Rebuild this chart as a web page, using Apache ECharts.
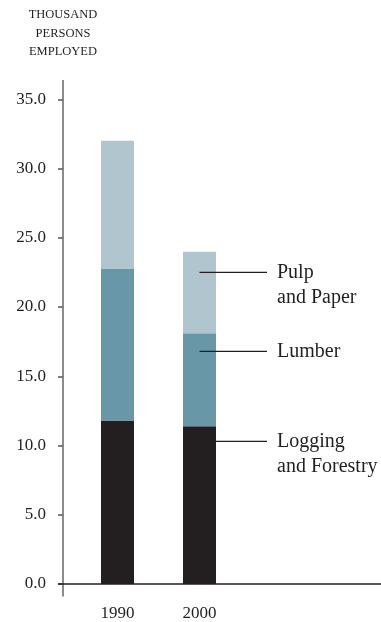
<!DOCTYPE html>
<html>
<head>
<meta charset="utf-8">
<script src="https://cdn.jsdelivr.net/npm/echarts@6/dist/echarts.min.js"></script>
<style>
html,body{margin:0;padding:0;background:#fff;}
#chart{width:381px;height:622px;}
</style>
</head>
<body>
<div id="chart"></div>
<script>
// ---- data ----
const categories = ['1990', '2000'];
const seriesNames = ['Logging\nand Forestry', 'Lumber', 'Pulp\nand Paper'];
const logging = [11.8, 11.4];
const lumber = [10.95, 6.7];
const pulp = [9.25, 5.9];
const yTicks = [0, 5, 10, 15, 20, 25, 30, 35];
const axisTitle = 'THOUSAND\nPERSONS\nEMPLOYED';

// ---- styling ----
const FONT = '"Liberation Serif", "DejaVu Serif", serif';
const colors = ['#231f20', '#6898a8', '#b0c5ce'];
const annotAnchors = [10.3, 16.8, 22.5]; // value positions of leader lines (logging, lumber, pulp)

const chart = echarts.init(document.getElementById('chart'));
const option = {
  animation: false,
  backgroundColor: '#fff',
  grid: { left: 76.5, right: 140.5, top: 99.3, bottom: 38, containLabel: false },
  xAxis: {
    type: 'category',
    data: categories,
    axisLine: { show: false },
    axisTick: { show: false },
    axisLabel: { color: '#231f20', fontFamily: FONT, fontSize: 17, margin: 21 }
  },
  yAxis: {
    type: 'value',
    min: yTicks[0],
    max: yTicks[yTicks.length - 1],
    interval: 5,
    offset: 13.5,
    name: axisTitle,
    nameLocation: 'end',
    nameGap: 38,
    nameTextStyle: { color: '#231f20', fontFamily: FONT, fontSize: 12.5, lineHeight: 18.5, align: 'center', verticalAlign: 'bottom' },
    axisLine: { show: false },
    axisTick: { show: true, length: 5, inside: false, lineStyle: { color: '#555', width: 1.5 } },
    splitLine: { show: false },
    axisLabel: { color: '#231f20', fontFamily: FONT, fontSize: 17, margin: 17, formatter: v => v.toFixed(1) }
  },
  series: [
    { name: seriesNames[0], type: 'bar', stack: 't', data: logging, barWidth: 33, itemStyle: { color: colors[0] } },
    { name: seriesNames[1], type: 'bar', stack: 't', data: lumber, barWidth: 33, itemStyle: { color: colors[1] } },
    { name: seriesNames[2], type: 'bar', stack: 't', data: pulp, barWidth: 33, itemStyle: { color: colors[2] } }
  ]
};
chart.setOption(option);

// axis lines and leader annotations, positioned via the chart's scales
const axisX = 76.5 - 13.5;
const yTop = chart.convertToPixel({ yAxisIndex: 0 }, 36.4);
const yBot = chart.convertToPixel({ yAxisIndex: 0 }, -0.9);
const y0 = chart.convertToPixel({ yAxisIndex: 0 }, 0);
const barCx = chart.convertToPixel({ xAxisIndex: 0 }, categories[1]);
const lineEnd = 267;
const textX = 277;
const graphics = [
  { type: 'line', z: 10, shape: { x1: axisX, y1: yTop, x2: axisX, y2: yBot }, style: { stroke: '#666', lineWidth: 1.5 } },
  { type: 'line', z: 10, shape: { x1: axisX - 5, y1: y0, x2: 381, y2: y0 }, style: { stroke: '#231f20', lineWidth: 1.5 } }
];
annotAnchors.forEach((v, i) => {
  const py = chart.convertToPixel({ yAxisIndex: 0 }, v);
  graphics.push({ type: 'line', z: 10, shape: { x1: barCx, y1: py, x2: lineEnd, y2: py }, style: { stroke: '#231f20', lineWidth: 1.3 } });
  graphics.push({ type: 'text', z: 10, x: textX, y: py - 12.5, style: { text: seriesNames[i], fill: '#231f20', font: '20px ' + FONT, lineHeight: 25, verticalAlign: 'top', align: 'left' } });
});
chart.setOption({ graphic: graphics });
</script>
</body>
</html>
